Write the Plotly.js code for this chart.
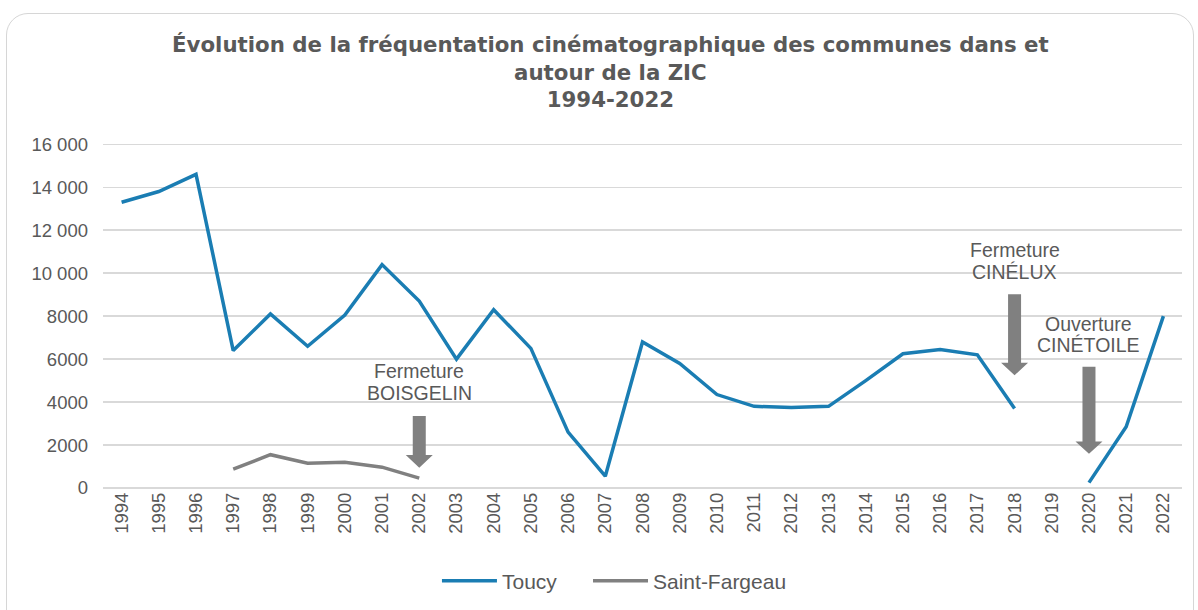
<!DOCTYPE html>
<html><head><meta charset="utf-8">
<script src="https://cdn.plot.ly/plotly-3.0.1.min.js"></script>
<style>
html,body{margin:0;padding:0;background:#fff;}
#wrap{position:relative;width:1198px;height:610px;overflow:hidden;}
#chart{position:absolute;left:0;top:0;width:1198px;height:610px;}
#frame{position:absolute;left:6px;top:13px;width:1186px;height:640px;border:1.5px solid #d6d6d6;border-radius:22px;pointer-events:none;}
</style></head>
<body><div id="wrap"><div id="chart"></div><div id="frame"></div></div>
<script>
const years = ['1994','1995','1996','1997','1998','1999','2000','2001','2002','2003','2004','2005','2006','2007','2008','2009','2010','2011','2012','2013','2014','2015','2016','2017','2018','2019','2020','2021','2022'];
const toucy = [13300,13800,14600,6400,8100,6600,8050,10400,8700,6000,8300,6500,2600,550,6800,5800,4350,3800,3750,3800,5000,6250,6450,6200,3700,null,250,2850,8000];
const saintFargeau = [null,null,null,880,1550,1150,1200,970,460,null,null,null,null,null,null,null,null,null,null,null,null,null,null,null,null,null,null,null,null];
const yTicks = [0,2000,4000,6000,8000,10000,12000,14000,16000];
const events = [
  {year:'2002', lines:['Fermeture','BOISGELIN'], lineY:[5463,4443], top:3350, head:1540, tip:940},
  {year:'2018', lines:['Fermeture','CINÉLUX'], lineY:[11080,10060], top:9020, head:5830, tip:5250},
  {year:'2020', lines:['Ouverture','CINÉTOILE'], lineY:[7657,6637], top:5640, head:2160, tip:1590}
];
const grey='#595959';
const font="'Liberation Sans', Arial, sans-serif";
const traces=[
  {x:years,y:toucy,type:'scatter',mode:'lines',name:'Toucy',line:{color:'#1a7db3',width:3.5},connectgaps:false,legend:'legend'},
  {x:years,y:saintFargeau,type:'scatter',mode:'lines',name:'Saint-Fargeau',line:{color:'#808080',width:3.5},connectgaps:false,legend:'legend2'}
];
const shapes=events.map(e=>({
  type:'path',xref:'x',yref:'y',xsizemode:'pixel',xanchor:years.indexOf(e.year),
  path:`M -6.5,${e.top} L 6.5,${e.top} L 6.5,${e.head} L 13.5,${e.head} L 0,${e.tip} L -13.5,${e.head} L -6.5,${e.head} Z`,
  fillcolor:'#808080',line:{width:0}
}));
const annotations=[];
events.forEach(e=>e.lines.forEach((t,i)=>annotations.push({
  x:years.indexOf(e.year),y:e.lineY[i],xref:'x',yref:'y',text:t,showarrow:false,
  yanchor:'middle',font:{family:font,size:19.5,color:grey},align:'center'
})));
const legFont={family:font,size:21,color:grey};
const layout={
  width:1198,height:610,
  margin:{l:103,r:16,t:143,b:122,autoexpand:false},
  paper_bgcolor:'rgba(0,0,0,0)',plot_bgcolor:'rgba(0,0,0,0)',
  separators:', ',
  title:{text:'<b>Évolution de la fréquentation cinématographique des communes dans et<br>autour de la ZIC<br>1994-2022</b>',
    font:{family:"'DejaVu Sans', sans-serif",size:21.3,color:grey},x:0.5095,xanchor:'center',y:0.915,yanchor:'top',yref:'container'},
  xaxis:{type:'category',tickangle:-90,tickfont:{family:font,size:18.5,color:grey},showgrid:false,
    showline:false,ticks:'',zeroline:false,range:[-0.5,28.5]},
  yaxis:{range:[0,16060],tickvals:yTicks,exponentformat:'none',separatethousands:false,
    tickfont:{family:font,size:18.5,color:grey},gridcolor:'#d9d9d9',gridwidth:1.5,
    zeroline:true,zerolinecolor:'#d9d9d9',zerolinewidth:1.5,ticks:'',ticklabelstandoff:14},
  showlegend:true,
  legend:{orientation:'h',x:0.3095,xanchor:'left',y:-0.2696,yanchor:'middle',font:legFont,itemwidth:55},
  legend2:{orientation:'h',x:0.4495,xanchor:'left',y:-0.2696,yanchor:'middle',font:legFont,itemwidth:55},
  shapes:shapes,annotations:annotations
};
Plotly.newPlot('chart',traces,layout,{staticPlot:true});
</script></body></html>
